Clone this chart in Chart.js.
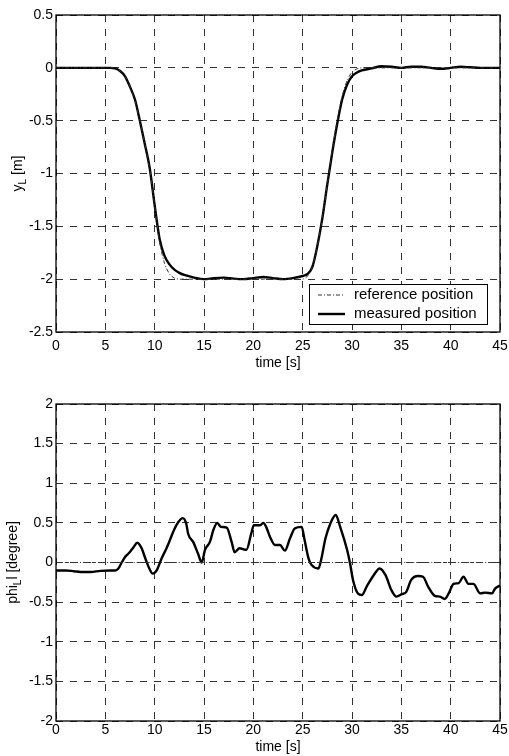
<!DOCTYPE html>
<html>
<head>
<meta charset="utf-8">
<script src="https://cdn.jsdelivr.net/npm/chart.js@4.4.0/dist/chart.umd.min.js"></script>
<style>
  body { margin: 0; background: #fff; width: 509px; height: 756px; overflow: hidden; position: relative; }
  canvas { position: absolute; left: 0; }
</style>
</head>
<body>
<canvas id="posChart" width="509" height="380" style="top:0"></canvas>
<canvas id="angleChart" width="509" height="376" style="top:380px"></canvas>
<script>
// ---- data ----
const xTicks = [0, 5, 10, 15, 20, 25, 30, 35, 40, 45];
const posTicks = [0.5, 0, -0.5, -1, -1.5, -2, -2.5];
const angleTicks = [2, 1.5, 1, 0.5, 0, -0.5, -1, -1.5, -2];

const timePos = [0, 1, 2, 3, 4, 5, 5.5, 6, 6.5, 7, 7.5, 8, 8.5, 9, 9.5, 10, 10.5, 11, 11.5, 12, 12.5, 13, 14, 15,
  16, 17, 18, 19, 20, 21, 22, 23, 24, 25, 25.5, 26, 26.5, 27, 27.5, 28, 28.5, 29, 29.5, 30, 30.5, 31, 32, 33,
  34, 35, 36, 37, 38, 39, 40, 41, 42, 43, 44, 45];
const refPos = [0, 0, 0, 0, 0, 0, 0, 0, -0.03, -0.08, -0.18, -0.31, -0.5, -0.72, -0.96, -1.3, -1.65, -1.85, -1.95, -1.99, -2, -2, -2, -2,
  -2, -2, -2, -2, -2, -2, -2, -2, -2, -2, -1.97, -1.88, -1.68, -1.42, -1.1, -0.78, -0.5, -0.27, -0.12, -0.04, -0.01, 0, 0, 0,
  0, 0, 0, 0, 0, 0, 0, 0, 0, 0, 0, 0];
const measPos = [0, 0, 0, 0, 0, 0, 0, -0.005, -0.03, -0.08, -0.18, -0.3, -0.5, -0.72, -0.95, -1.3, -1.62, -1.78, -1.86, -1.91, -1.94, -1.96, -1.985, -2.0,
  -1.99, -1.985, -1.995, -2.0, -1.99, -1.98, -1.99, -2.0, -1.99, -1.97, -1.95, -1.88, -1.68, -1.42, -1.1, -0.8, -0.53, -0.3, -0.16, -0.08, -0.045, -0.025, -0.005, 0.015,
  0.01, 0, 0.01, 0.01, 0, -0.01, 0, 0.01, 0.005, 0, 0, 0];

const timeAngle = [0, 1, 1.8, 2.5, 3.5, 4.5, 5.5, 6.0, 6.3, 6.66, 7.0, 7.4, 7.84, 8.24, 8.68, 9.0, 9.46, 9.8, 10.2, 10.7,
  11.2, 11.6, 11.96, 12.4, 12.84, 13.2, 13.4, 13.9, 14.4, 14.77, 15.1, 15.6, 15.95, 16.35, 16.7, 17.3, 17.8, 18.1, 18.6, 19.3,
  19.8, 20.05, 20.7, 21.0, 21.3, 21.7, 22.2, 22.7, 23.2, 23.7, 24.2, 24.9, 25.2, 25.6, 25.9, 26.6, 26.9, 27.3, 27.8, 28.35,
  28.8, 29.5, 29.8, 30.1, 30.6, 31.0, 31.5, 32.2, 32.8, 33.4, 34.0, 34.5, 35.05, 35.5, 36.0, 36.7, 37.2, 37.7, 38.4, 38.9,
  39.4, 39.8, 40.3, 40.8, 41.3, 41.8, 42.3, 43.0, 43.5, 44.2, 44.5, 45];
const measAngle = [-0.1, -0.1, -0.11, -0.12, -0.12, -0.105, -0.1, -0.1, -0.08, 0.0, 0.07, 0.12, 0.19, 0.25, 0.18, 0.07, -0.075, -0.14, -0.1, 0.05,
  0.18, 0.3, 0.41, 0.51, 0.56, 0.49, 0.36, 0.26, 0.11, 0.0, 0.16, 0.26, 0.41, 0.5, 0.45, 0.44, 0.26, 0.13, 0.18, 0.16,
  0.37, 0.47, 0.47, 0.5, 0.45, 0.32, 0.22, 0.22, 0.15, 0.3, 0.43, 0.45, 0.28, 0.05, -0.03, -0.075, 0.05, 0.3, 0.49, 0.6,
  0.45, 0.16, -0.01, -0.22, -0.39, -0.41, -0.3, -0.16, -0.075, -0.16, -0.35, -0.43, -0.4, -0.37, -0.22, -0.17, -0.18, -0.3, -0.42, -0.43,
  -0.46, -0.39, -0.27, -0.26, -0.18, -0.27, -0.27, -0.39, -0.38, -0.39, -0.33, -0.29];
const refAngleTime = [0, 45];
const refAngle = [0, 0];

// ---- drawing ----
const FONT = "'Liberation Sans', Arial, sans-serif";
Chart.defaults.font.family = FONT;
Chart.defaults.color = '#000';

const pairs = (xs, ys) => xs.map((x, i) => ({ x: x, y: ys[i] }));

// frame, rotated y title with subscript, boxed legend
const matlabLook = {
  id: 'matlabLook',
  afterDraw(chart, args, o) {
    const ctx = chart.ctx, a = chart.chartArea;
    ctx.save();
    ctx.strokeStyle = '#000';
    ctx.lineWidth = 1.3;
    ctx.strokeRect(a.left, a.top, a.right - a.left, a.bottom - a.top);

    // y title
    ctx.save();
    ctx.translate(o.titleX, (a.top + a.bottom) / 2);
    ctx.rotate(-Math.PI / 2);
    ctx.fillStyle = '#000';
    ctx.textBaseline = 'middle';
    let w = 0;
    o.title.forEach(p => { ctx.font = (p.sub ? 10 : 14) + 'px ' + FONT; w += ctx.measureText(p.t).width; });
    let x = -w / 2;
    o.title.forEach(p => {
      ctx.font = (p.sub ? 10 : 14) + 'px ' + FONT;
      ctx.fillText(p.t, x, p.sub ? 5 : 0);
      x += ctx.measureText(p.t).width;
    });
    ctx.restore();

    // legend
    const L = o.legend;
    ctx.fillStyle = '#fff';
    ctx.fillRect(L.x, L.y, L.w, L.h);
    ctx.lineWidth = 1;
    ctx.strokeStyle = '#000';
    ctx.strokeRect(L.x + 0.5, L.y + 0.5, L.w, L.h);
    ctx.font = '15px ' + FONT;
    ctx.textBaseline = 'middle';
    chart.data.datasets.forEach((ds, i) => {
      const y = L.y + L.rowY[i];
      ctx.strokeStyle = ds.borderColor;
      ctx.lineWidth = ds.borderWidth;
      ctx.setLineDash(ds.borderDash || []);
      ctx.beginPath();
      ctx.moveTo(L.x + L.lineX0, y);
      ctx.lineTo(L.x + L.lineX1, y);
      ctx.stroke();
      ctx.setLineDash([]);
      ctx.fillStyle = '#000';
      ctx.fillText(ds.label, L.x + L.textX, y);
    });
    ctx.restore();
  }
};

function makeChart(id, cfg) {
  const tickFont = { family: FONT, size: 14 };
  return new Chart(document.getElementById(id), {
    type: 'line',
    data: {
      datasets: [
        {
          label: cfg.refLabel,
          data: cfg.refData,
          borderColor: '#333',
          borderWidth: 1,
          borderDash: [4, 2, 1, 2],
          pointRadius: 0,
          tension: 0.3
        },
        {
          label: cfg.measLabel,
          data: cfg.measData,
          borderColor: '#000',
          borderWidth: 2.4,
          pointRadius: 0,
          cubicInterpolationMode: 'monotone'
        }
      ]
    },
    options: {
      responsive: false,
      animation: false,
      events: [],
      layout: { padding: { top: cfg.padTop, right: 9, left: 0, bottom: 0 } },
      plugins: {
        legend: { display: false },
        tooltip: { enabled: false },
        matlabLook: cfg.look
      },
      scales: {
        x: {
          type: 'linear',
          min: 0,
          max: 45,
          afterBuildTicks: s => { s.ticks = xTicks.map(v => ({ value: v })); },
          afterFit: s => { s.height = cfg.xAxisH; s.paddingLeft = 0; s.paddingRight = 0; },
          grid: { color: '#333', lineWidth: 1, drawTicks: false },
          border: { display: false, dash: [7, 7] },
          ticks: { font: tickFont, padding: cfg.xTickPad, maxRotation: 0, autoSkip: false },
          title: { display: true, text: 'time [s]', font: tickFont, padding: { top: 0, bottom: cfg.xTitlePad } }
        },
        y: {
          min: cfg.yTicks[cfg.yTicks.length - 1],
          max: cfg.yTicks[0],
          afterBuildTicks: s => { s.ticks = cfg.yTicks.map(v => ({ value: v })); },
          afterFit: s => { s.width = 56; s.paddingTop = 0; s.paddingBottom = 0; },
          grid: { color: '#333', lineWidth: 1, drawTicks: false },
          border: { display: false, dash: [7, 7] },
          ticks: { font: tickFont, padding: 3, autoSkip: false, callback: v => String(v) }
        }
      }
    },
    plugins: [matlabLook]
  });
}

makeChart('posChart', {
  refLabel: 'reference position',
  measLabel: 'measured position',
  refData: pairs(timePos, refPos),
  measData: pairs(timePos, measPos),
  yTicks: posTicks,
  padTop: 15,
  xAxisH: 48,
  xTickPad: 6,
  xTitlePad: 8,
  look: {
    titleX: 18,
    title: [{ t: 'y' }, { t: 'L', sub: true }, { t: ' [m]' }],
    legend: { x: 309, y: 284, w: 178, h: 40, rowY: [11, 30], lineX0: 9, lineX1: 36, textX: 45 }
  }
});

makeChart('angleChart', {
  refLabel: 'reference angle',
  measLabel: 'measured angle',
  refData: pairs(refAngleTime, refAngle),
  measData: pairs(timeAngle, measAngle),
  yTicks: angleTicks,
  padTop: 24,
  xAxisH: 35,
  xTickPad: 1,
  xTitlePad: 0,
  look: {
    titleX: 13,
    title: [{ t: 'phi' }, { t: 'L', sub: true }, { t: 'l [degree]' }],
    legend: { x: 321, y: 430, w: 162, h: 40, rowY: [11, 30], lineX0: 8, lineX1: 35, textX: 45 }
  }
});
</script>
</body>
</html>
